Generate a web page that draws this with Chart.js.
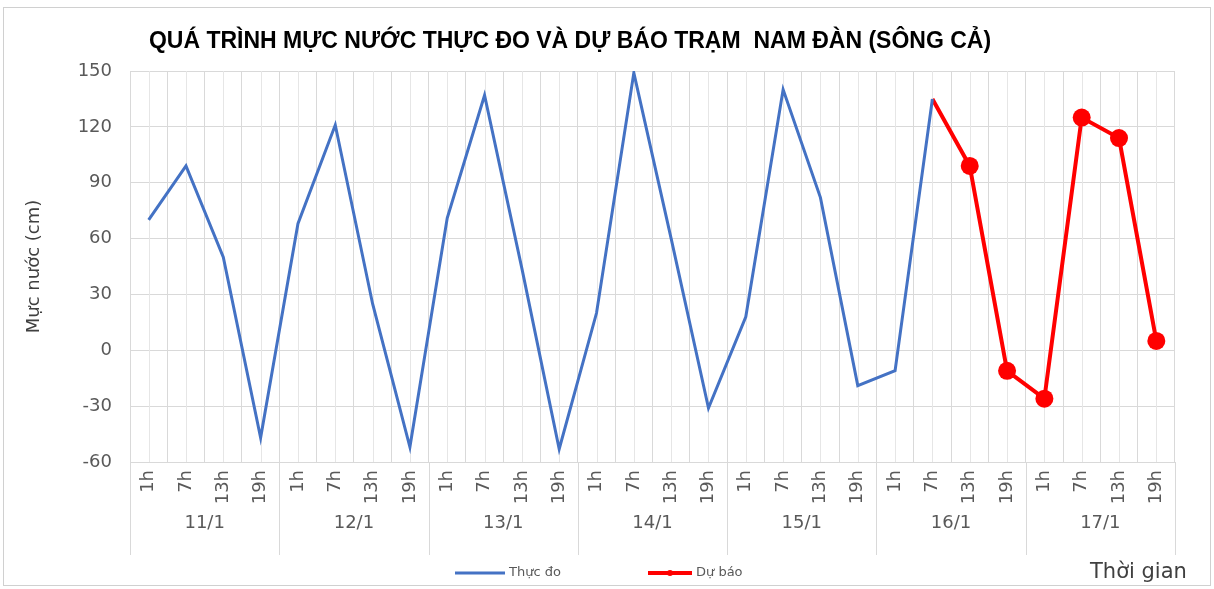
<!DOCTYPE html>
<html>
<head>
<meta charset="utf-8">
<script src="https://cdn.jsdelivr.net/npm/chart.js@4/dist/chart.umd.min.js"></script>
<style>
  html, body { margin: 0; padding: 0; background: #fff; }
  #wrap { width: 1214px; height: 589px; position: relative; }
</style>
</head>
<body>
<div id="wrap"><canvas id="mucNuocChart" width="1214" height="589"></canvas></div>
<script>
// du lieu
var dayLabels = ['11/1', '12/1', '13/1', '14/1', '15/1', '16/1', '17/1'];
var hourLabels = ['1h', '7h', '13h', '19h'];
var yTicks = [-60, -30, 0, 30, 60, 90, 120, 150];

var thucDo = [70, 99, 50, -47,
              68, 121, 25, -52,
              71, 137, 44, -53,
              20, 149, 60, -31,
              18, 140, 82, -19,
              -11, 135, null, null,
              null, null, null, null];

var duBao = [null, null, null, null,
             null, null, null, null,
             null, null, null, null,
             null, null, null, null,
             null, null, null, null,
             null, 135, 99, -11,
             -26, 125, 114, 5];

var labels = [];
dayLabels.forEach(function () {
    hourLabels.forEach(function (h) { labels.push(h); });
});

var tickFont = { family: 'DejaVu Sans', size: 18 };
var textColor = '#595959';

//ve them: luoi phu, nhan ngay, tieu de, chu thich
var decorPlugin = {
    id: 'decor',
    beforeDatasetsDraw: function (chart) {
        var ctx = chart.ctx, area = chart.chartArea, x = chart.scales.x;
        ctx.save();
        ctx.strokeStyle = '#e6e6e6';
        ctx.lineWidth = 1;
        for (var i = 0; i < labels.length; i++) {
            var px = Math.round(x.getPixelForValue(i)) + 0.5;
            ctx.beginPath();
            ctx.moveTo(px, area.top);
            ctx.lineTo(px, area.bottom);
            ctx.stroke();
        }
        ctx.restore();
    },
    afterDraw: function (chart) {
        var ctx = chart.ctx, area = chart.chartArea, x = chart.scales.x;
        var step = x.getPixelForValue(1) - x.getPixelForValue(0);
        ctx.save();

        // khung ngoai
        ctx.strokeStyle = '#d0d0d0';
        ctx.lineWidth = 1;
        ctx.strokeRect(3.5, 7.5, 1207, 578);

        // vach chia ngay + nhan ngay
        ctx.strokeStyle = '#d9d9d9';
        ctx.fillStyle = textColor;
        ctx.font = '18px "DejaVu Sans"';
        ctx.textAlign = 'center';
        ctx.textBaseline = 'middle';
        for (var d = 0; d <= dayLabels.length; d++) {
            var bx = Math.round(x.getPixelForValue(d * 4) - step / 2) + 0.5;
            ctx.beginPath();
            ctx.moveTo(bx, area.bottom);
            ctx.lineTo(bx, area.bottom + 93);
            ctx.stroke();
            if (d < dayLabels.length) {
                var cx = (x.getPixelForValue(d * 4) + x.getPixelForValue(d * 4 + 3)) / 2;
                ctx.fillText(dayLabels[d], cx, area.bottom + 61);
            }
        }

        // tieu de
        ctx.fillStyle = '#000';
        ctx.font = 'bold 23px "Liberation Sans"';
        ctx.textAlign = 'center';
        ctx.fillText('QUÁ TRÌNH MỰC NƯỚC THỰC ĐO VÀ DỰ BÁO TRẠM  NAM ĐÀN (SÔNG CẢ)', 570, 42);

        // chu thich
        var ly = 573;
        ctx.lineWidth = 3;
        ctx.strokeStyle = '#4472C4';
        ctx.beginPath(); ctx.moveTo(455, ly); ctx.lineTo(505, ly); ctx.stroke();
        ctx.lineWidth = 4;
        ctx.strokeStyle = '#FF0000';
        ctx.beginPath(); ctx.moveTo(648, ly); ctx.lineTo(692, ly); ctx.stroke();
        ctx.fillStyle = '#FF0000';
        ctx.beginPath(); ctx.arc(670, ly, 3, 0, Math.PI * 2); ctx.fill();
        ctx.fillStyle = textColor;
        ctx.font = '13px "DejaVu Sans"';
        ctx.textAlign = 'left';
        ctx.fillText('Thực đo', 509, ly);
        ctx.fillText('Dự báo', 696, ly);

        ctx.fillStyle = '#404040';
        ctx.font = '21px "DejaVu Sans"';
        ctx.fillText('Thời gian', 1090, ly);
        ctx.restore();
    }
};

var ctx = document.getElementById('mucNuocChart').getContext('2d');
window.mucNuocChart = new Chart(ctx, {
    type: 'line',
    data: {
        labels: labels,
        datasets: [
            {
                label: 'Thực đo',
                data: thucDo,
                borderColor: '#4472C4',
                backgroundColor: '#4472C4',
                borderWidth: 3,
                pointRadius: 0,
                tension: 0
            },
            {
                label: 'Dự báo',
                data: duBao,
                borderColor: '#FF0000',
                backgroundColor: '#FF0000',
                borderWidth: 4,
                pointRadius: function (c) { return c.dataIndex === 21 ? 0 : 9; },
                pointBorderWidth: 0,
                tension: 0
            }
        ]
    },
    options: {
        responsive: false,
        animation: false,
        layout: { padding: { left: 8, right: 39, top: 71, bottom: 33 } },
        plugins: {
            legend: { display: false },
            title: { display: false },
            tooltip: { enabled: false }
        },
        scales: {
            x: {
                offset: true,
                grid: { offset: true, color: '#d9d9d9', drawTicks: false },
                border: { color: '#d9d9d9' },
                ticks: {
                    color: textColor,
                    font: tickFont,
                    maxRotation: 90,
                    minRotation: 90,
                    autoSkip: false,
                    padding: 8
                },
                afterFit: function (s) { s.height = 94; }
            },
            y: {
                min: -60,
                max: 150,
                afterBuildTicks: function (s) {
                    s.ticks = yTicks.map(function (v) { return { value: v }; });
                },
                grid: { color: '#d9d9d9', drawTicks: false },
                border: { display: false },
                ticks: { color: textColor, font: tickFont, padding: 18 },
                title: {
                    display: true,
                    text: 'Mực nước (cm)',
                    color: '#404040',
                    font: { family: 'DejaVu Sans', size: 18 },
                    padding: { top: 16, bottom: 0 }
                },
                afterFit: function (s) { s.width = 122; }
            }
        }
    },
    plugins: [decorPlugin]
});
</script>
</body>
</html>
